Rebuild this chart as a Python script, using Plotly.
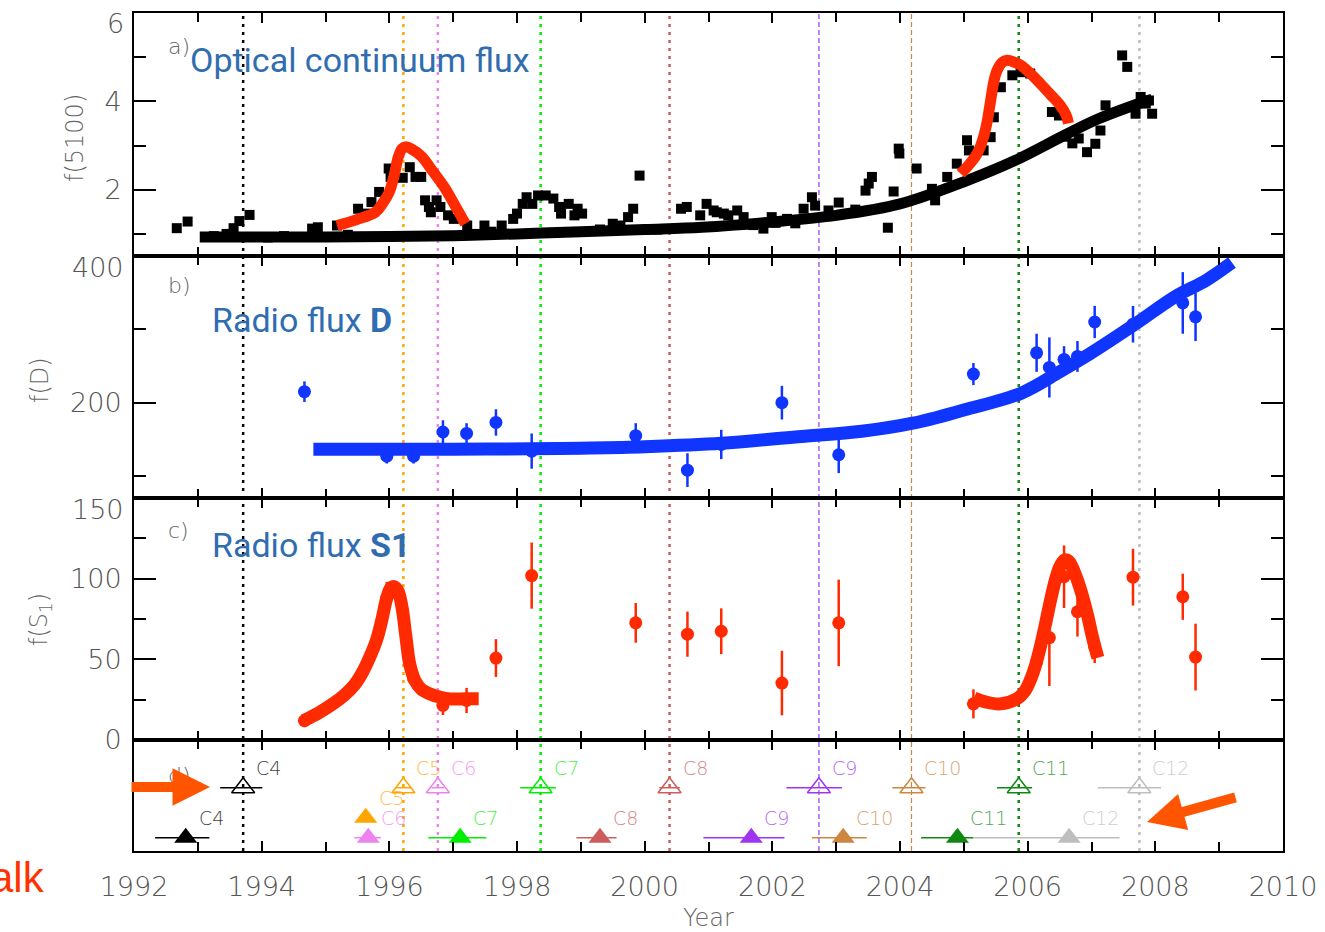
import plotly.graph_objects as go
from plotly.subplots import make_subplots

# ---------------- panel a: optical continuum flux f(5100) ----------------
opt_year = [1992.67, 1992.84, 1993.25, 1993.45, 1993.56, 1993.65, 1993.81, 1994.10, 1994.35,
            1994.58, 1994.79, 1994.88, 1995.18, 1995.35, 1995.51, 1995.63, 1995.72, 1995.84,
            1995.99, 1996.02, 1996.21, 1996.32, 1996.41, 1996.50, 1996.56, 1996.62, 1996.65,
            1996.74, 1996.80, 1996.92, 1997.01, 1997.22, 1997.35, 1997.49, 1997.60, 1997.76,
            1997.94, 1998.00, 1998.09, 1998.15, 1998.24, 1998.33, 1998.45, 1998.57, 1998.66,
            1998.69, 1998.81, 1998.90, 1998.95, 1999.02, 1999.30, 1999.50, 1999.62, 1999.74,
            1999.82, 1999.92, 2000.20, 2000.57, 2000.66, 2000.87, 2000.97, 2001.08, 2001.13,
            2001.24, 2001.31, 2001.45, 2001.55, 2001.70, 2001.86, 2001.99, 2002.05, 2002.23,
            2002.36, 2002.49, 2002.62, 2002.67, 2002.88, 2003.04, 2003.30, 2003.46, 2003.51,
            2003.56, 2003.81, 2003.90, 2003.98, 2003.99, 2004.26, 2004.50, 2004.55, 2004.74,
            2004.89, 2005.05, 2005.08, 2005.31, 2005.42, 2005.47, 2005.58, 2005.76, 2005.89,
            2006.04, 2006.38, 2006.49, 2006.60, 2006.70, 2006.80, 2006.93, 2007.06, 2007.14,
            2007.22, 2007.48, 2007.56, 2007.69, 2007.77, 2007.85, 2007.90, 2007.95]
opt_flux = [1.13, 1.28, 0.95, 1.00, 1.13, 1.29, 1.43, 0.92, 0.95,
            0.93, 1.12, 1.15, 1.19, 0.98, 1.57, 1.46, 1.72, 1.95,
            2.48, 2.29, 2.27, 2.51, 2.29, 2.29, 1.76, 1.61, 1.49,
            1.76, 1.61, 1.42, 1.34, 1.19, 1.00, 1.19, 1.05, 1.19,
            1.34, 1.46, 1.68, 1.83, 1.68, 1.87, 1.87, 1.80, 1.61,
            1.46, 1.68, 1.42, 1.57, 1.46, 1.10, 1.23, 1.19, 1.38,
            1.57, 2.32, 1.10, 1.57, 1.61, 1.42, 1.68, 1.53, 1.49,
            1.46, 1.42, 1.53, 1.38, 1.20, 1.12, 1.38, 1.25, 1.34,
            1.24, 1.57, 1.83, 1.64, 1.53, 1.71, 1.55, 1.98, 2.14,
            2.29, 1.14, 1.96, 2.93, 2.82, 2.48, 2.02, 1.76, 2.29,
            2.59, 3.12, 2.89, 2.89, 3.19, 3.64, 4.32, 4.59, 4.66,
            4.63, 3.76, 3.68, 3.20, 3.05, 3.16, 2.85, 3.04, 3.34,
            3.91, 5.04, 4.78, 3.72, 4.10, 3.95, 4.02, 3.72]

opt_trend_year = [1993.03, 1994.0, 1995.0, 1996.0, 1997.0, 1998.0, 1999.0, 2000.0, 2000.9,
                  2002.0, 2003.0, 2004.0, 2005.0, 2005.8, 2006.6, 2007.1, 2007.8, 2007.95]
opt_trend_flux = [0.93, 0.93, 0.93, 0.94, 0.96, 1.00, 1.05, 1.10, 1.15,
                  1.27, 1.42, 1.68, 2.18, 2.66, 3.25, 3.60, 3.98, 4.05]

opt_flare1_year = [1995.18, 1995.50, 1995.78, 1995.90, 1996.00, 1996.08, 1996.14, 1996.20,
                   1996.26, 1996.35, 1996.50, 1996.68, 1996.86, 1997.03, 1997.19]
opt_flare1_flux = [1.19, 1.33, 1.49, 1.70, 1.95, 2.35, 2.74, 2.93,
                   2.97, 2.92, 2.76, 2.42, 2.06, 1.64, 1.23]
opt_flare2_year = [2004.95, 2005.10, 2005.21, 2005.30, 2005.36, 2005.42, 2005.47, 2005.52,
                   2005.60, 2005.68, 2005.80, 2005.89, 2006.05, 2006.20, 2006.36, 2006.51,
                   2006.60, 2006.64]
opt_flare2_flux = [2.36, 2.60, 2.82, 3.15, 3.50, 4.02, 4.45, 4.70,
                   4.88, 4.93, 4.88, 4.82, 4.62, 4.40, 4.15, 3.91,
                   3.70, 3.50]

# ---------------- panel b: radio flux of component D ----------------
d_year = [1994.67, 1995.96, 1996.38, 1996.84, 1997.21, 1997.67, 1998.23, 1999.86, 2000.67,
          2001.20, 2002.15, 2003.04, 2005.15, 2006.14, 2006.34, 2006.57, 2006.78, 2007.05,
          2007.65, 2008.43, 2008.63]
d_flux = [215, 127, 127, 160, 158, 173, 134, 155, 108,
          143, 200, 129, 239, 268, 248, 259, 263, 310,
          307, 336, 317]
d_err = [14, 10, 10, 16, 14, 18, 24, 17, 23,
         20, 23, 25, 15, 26, 41, 18, 21, 22,
         25, 42, 33]
d_trend_year = [1994.81, 1996.0, 1997.0, 1998.2, 1999.0, 2000.0, 2001.2, 2002.4, 2003.4,
                2004.2, 2005.0, 2005.9, 2006.5, 2007.0, 2007.7, 2008.3, 2008.8, 2009.2]
d_trend_flux = [136.5, 136.5, 136.6, 137, 138, 140, 144.6, 153.6, 161,
                172, 190, 213, 242, 268, 308, 344, 367, 391]

# ---------------- panel c: radio flux of component S1 ----------------
s1_year = [1994.67, 1995.96, 1996.38, 1996.84, 1997.21, 1997.67, 1998.23, 1999.86, 2000.67,
           2001.20, 2002.15, 2003.04, 2005.15, 2006.14, 2006.34, 2006.57, 2006.78, 2007.05,
           2007.65, 2008.43, 2008.63]
s1_flux = [12, 88, 38, 21.5, 24.5, 50.8, 101.9, 72.6, 65.6,
           67.4, 35.3, 72.6, 22.4, 48.3, 63.5, 101.2, 79.5, 57.7,
           100.9, 88.8, 51.4]
s1_err = [4, 10, 6, 6, 7.8, 11.7, 20.5, 12.3, 14,
          14.2, 20, 26.8, 9, 8, 30, 19.4, 15.4, 10,
          17.6, 14.3, 20.7]
s1_flare1_year = [1994.66, 1994.90, 1995.12, 1995.30, 1995.45, 1995.58, 1995.70, 1995.80,
                  1995.88, 1995.96, 1996.02, 1996.08, 1996.14, 1996.20, 1996.26, 1996.32,
                  1996.40, 1996.50, 1996.64, 1996.80, 1996.95, 1997.20, 1997.40]
s1_flare1_flux = [12, 17, 22.5, 28, 34, 42, 52, 62,
                  74, 88, 94, 95, 92, 82, 64, 47,
                  37, 31.5, 28.5, 26.5, 25.5, 25.5, 25.5]
s1_flare2_year = [2005.16, 2005.35, 2005.57, 2005.83, 2005.95, 2006.04, 2006.12, 2006.20,
                  2006.28, 2006.36, 2006.44, 2006.51, 2006.58, 2006.64, 2006.70, 2006.78,
                  2006.86, 2006.94, 2007.02, 2007.10]
s1_flare2_flux = [26, 23.5, 22.4, 25.5, 30, 37, 46, 58,
                  72, 87, 100, 108, 111.6, 111, 107, 99,
                  89, 77, 63, 51]

# ---------------- panel d: component epochs ----------------
comp_names = ["C4", "C5", "C6", "C7", "C8", "C9", "C10", "C11", "C12"]
comp_colors = ["#000000", "#FFA500", "#EE82EE", "#00EE00", "#CD5C5C",
               "#A035F0", "#CD853F", "#118811", "#BEBEBE"]
# ejection epochs (open triangles, also the dotted event lines)
eject_year = [1993.71, 1996.22, 1996.76, 1998.37, 2000.39, 2002.73, 2004.18, 2005.86, 2007.75]
eject_err_lo = [0.36, 0.12, 0.10, 0.32, 0.16, 0.51, 0.30, 0.34, 0.65]
eject_err_hi = [0.30, 0.12, 0.10, 0.24, 0.16, 0.36, 0.22, 0.21, 0.34]
eject_level = [0.57] * 9
# flare epochs (filled triangles)
flare_year = [1992.81, 1995.63, 1995.67, 1997.11, 1999.30, 2001.67, 2003.11, 2004.90, 2006.65]
flare_err_lo = [0.48, 0.0, 0.22, 0.50, 0.37, 0.75, 0.49, 0.57, 1.50]
flare_err_hi = [0.37, 0.0, 0.20, 0.41, 0.26, 0.52, 0.37, 0.25, 0.79]
flare_level = [0.12, 0.30, 0.12, 0.12, 0.12, 0.12, 0.12, 0.12, 0.12]

x_ticks = [1992, 1994, 1996, 1998, 2000, 2002, 2004, 2006, 2008, 2010]
opt_ticks, opt_minor = [2, 4, 6], [1, 3, 5]
d_ticks, d_minor = [200, 400], [100, 300]
s1_ticks, s1_minor = [0, 50, 100, 150], [25, 75, 125]

# ---------------- styling ----------------
W, H = 1325, 932
ML, MR, MT, MB = 134, 42, 13, 81
TICK_FONT = dict(family="DejaVu Sans", size=27, color="#555555", weight=300)
LABEL_FONT = dict(family="DejaVu Sans", size=22, color="#666666", weight=300)
BLUE_TXT = "#2F6DB0"
RED = "#FF2A00"
BLUE = "#0F35FF"

event_width = [2.5, 2.5, 2.5, 2.5, 2.5, 1.2, 1.2, 2.5, 2.5]
event_dash = ["3px,5px"] * 5 + ["5px,3px", "5px,3px"] + ["3px,5px", "3px,5px"]


def paper(xp, yp):
    """pixel position on the page -> paper coordinates"""
    return (xp - ML) / (W - ML - MR), (H - MB - yp) / (H - MT - MB)


fig = make_subplots(rows=4, cols=1, shared_xaxes=True, vertical_spacing=0,
                    row_heights=[243, 242, 242, 111])

# panel a
fig.add_trace(go.Scatter(x=opt_year, y=opt_flux, mode="markers",
                         marker=dict(symbol="square", size=10, color="black"),
                         showlegend=False), row=1, col=1)
fig.add_trace(go.Scatter(x=opt_trend_year, y=opt_trend_flux, mode="lines",
                         line=dict(color="black", width=11, shape="spline"),
                         showlegend=False), row=1, col=1)
for xs, ys in [(opt_flare1_year, opt_flare1_flux), (opt_flare2_year, opt_flare2_flux)]:
    fig.add_trace(go.Scatter(x=xs, y=ys, mode="lines",
                             line=dict(color=RED, width=11, shape="spline"),
                             showlegend=False), row=1, col=1)

# panel b
fig.add_trace(go.Scatter(x=d_year, y=d_flux, mode="markers",
                         marker=dict(symbol="circle", size=13, color=BLUE),
                         error_y=dict(type="data", array=d_err, color=BLUE,
                                      thickness=2.5, width=0),
                         showlegend=False), row=2, col=1)
fig.add_trace(go.Scatter(x=d_trend_year, y=d_trend_flux, mode="lines",
                         line=dict(color=BLUE, width=13, shape="spline"),
                         showlegend=False), row=2, col=1)

# panel c
fig.add_trace(go.Scatter(x=s1_year, y=s1_flux, mode="markers",
                         marker=dict(symbol="circle", size=13, color=RED),
                         error_y=dict(type="data", array=s1_err, color=RED,
                                      thickness=2.5, width=0),
                         showlegend=False), row=3, col=1)
for xs, ys in [(s1_flare1_year, s1_flare1_flux), (s1_flare2_year, s1_flare2_flux)]:
    fig.add_trace(go.Scatter(x=xs, y=ys, mode="lines",
                             line=dict(color=RED, width=13, shape="spline"),
                             showlegend=False), row=3, col=1)

# panel d
for i, name in enumerate(comp_names):
    col = comp_colors[i]
    fig.add_trace(go.Scatter(
        x=[eject_year[i]], y=[eject_level[i]], mode="markers",
        marker=dict(symbol="triangle-up-open", size=20, color=col, line=dict(width=1.5, color=col)),
        error_x=dict(type="data", symmetric=False, array=[eject_err_hi[i]],
                     arrayminus=[eject_err_lo[i]], color=col, thickness=1.5, width=0),
        showlegend=False), row=4, col=1)
    fig.add_trace(go.Scatter(
        x=[flare_year[i]], y=[flare_level[i]], mode="markers",
        marker=dict(symbol="triangle-up", size=20, color=col),
        error_x=dict(type="data", symmetric=False, array=[flare_err_hi[i]],
                     arrayminus=[flare_err_lo[i]], color=col, thickness=1.5, width=0,
                     visible=flare_err_hi[i] > 0),
        showlegend=False), row=4, col=1)
    for xv, yv in [(eject_year[i], eject_level[i]), (flare_year[i], flare_level[i])]:
        fig.add_annotation(x=xv, y=yv, xref="x4", yref="y4", text=name, showarrow=False,
                           xanchor="left", yanchor="middle", xshift=11, yshift=20,
                           font=dict(family="DejaVu Sans", size=19, color=col, weight=300),
                           opacity=0.75)

# dotted event lines through all panels
for i, yr in enumerate(eject_year):
    fig.add_shape(type="line", xref="x", yref="paper", x0=yr, x1=yr, y0=0, y1=1,
                  line=dict(color=comp_colors[i], width=event_width[i], dash=event_dash[i]),
                  layer="below")

axis_common = dict(showline=True, linecolor="black", linewidth=2, mirror="ticks",
                   ticks="inside", tickcolor="black", tickwidth=2, showgrid=False,
                   zeroline=False, tickfont=TICK_FONT, automargin=False)


def minor_ticks(vals):
    return dict(tickvals=vals, ticks="inside", ticklen=12, tickwidth=2,
                tickcolor="black", showgrid=False)


for r in range(1, 5):
    fig.update_xaxes(range=[1992, 2010], tickvals=x_ticks, ticklen=10,
                     minor=dict(dtick=1, tick0=1992, ticks="inside", ticklen=9,
                                tickwidth=2, tickcolor="black", showgrid=False),
                     showticklabels=(r == 4), ticklabelstandoff=11,
                     ticklabeloverflow="allow", row=r, col=1, **axis_common)

# the label of the topmost tick of each panel is drawn separately, just below the frame
for r, rng, ticks, minor in [(1, [0.5, 6], opt_ticks, opt_minor),
                             (2, [70, 400], d_ticks, d_minor),
                             (3, [0, 150], s1_ticks, s1_minor)]:
    fig.update_yaxes(range=rng, tickvals=ticks,
                     ticktext=[str(t) for t in ticks[:-1]] + [""], ticklen=22,
                     minor=minor_ticks(minor), ticklabelstandoff=5,
                     row=r, col=1, **axis_common)
fig.update_yaxes(range=[0, 1], showticklabels=False, row=4, col=1,
                 **{**axis_common, "ticks": ""})


# text labels
def text(xp, yp, s, font, xanchor="center", angle=0):
    px, py = paper(xp, yp)
    fig.add_annotation(x=px, y=py, xref="paper", yref="paper", text=s, showarrow=False,
                       xanchor=xanchor, yanchor="middle", font=font, textangle=angle)


for top_label, yp in [(opt_ticks[-1], 24), (d_ticks[-1], 267), (s1_ticks[-1], 509)]:
    text(126, yp, str(top_label), TICK_FONT, "right")

title_font = dict(family="Roboto", size=34, color=BLUE_TXT)
text(166, 47, "a)", LABEL_FONT, "left")
text(188, 60, "Optical continuum flux", title_font, "left")
text(166, 285, "b)", LABEL_FONT, "left")
text(210, 320, "Radio flux <b>D</b>", title_font, "left")
text(166, 530, "c)", LABEL_FONT, "left")
text(210, 545, "Radio flux <b>S1</b>", title_font, "left")
text(166, 775, "d)", LABEL_FONT, "left")

ytitle_font = dict(family="DejaVu Sans", size=24, color="#666666", weight=300)
text(75, 138, "f(5100)", ytitle_font, angle=-90)
text(40, 380, "f(D)", ytitle_font, angle=-90)
text(40, 620, "f(S<sub>1</sub>)", ytitle_font, angle=-90)
text(708, 918, "Year", ytitle_font)
text(47, 877, "alk", dict(family="Liberation Sans", size=42, color="#FF3300"), "right")

# highlighting arrows
ARROW = "#FF5500"
for tip, tail in [((210, 787), (130, 787)), ((1147, 822), (1237, 797))]:
    tx, ty = paper(*tip)
    fig.add_annotation(x=tx, y=ty, xref="paper", yref="paper", text="", showarrow=True,
                       ax=tail[0] - tip[0], ay=tail[1] - tip[1], arrowhead=2,
                       arrowsize=0.75, arrowwidth=10, arrowcolor=ARROW, standoff=0)

fig.update_layout(width=W, height=H, margin=dict(l=ML, r=MR, t=MT, b=MB, autoexpand=False),
                  plot_bgcolor="rgba(0,0,0,0)", paper_bgcolor="white", showlegend=False)

fig.write_html("out.html")
